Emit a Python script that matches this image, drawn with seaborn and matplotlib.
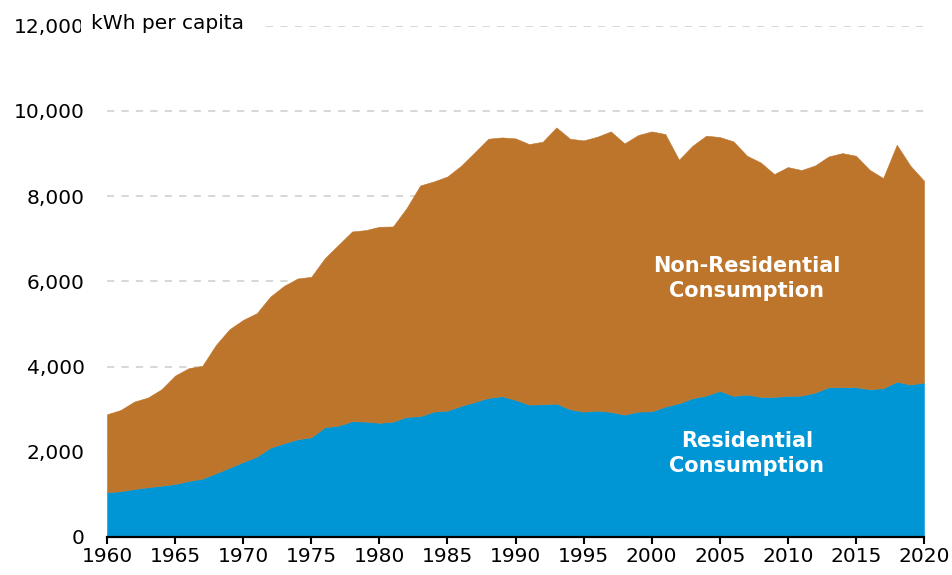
import numpy as np
import pandas as pd
import matplotlib
matplotlib.use("Agg")
import matplotlib.pyplot as plt
from matplotlib.patches import Rectangle
import seaborn as sns

years = list(range(1960, 2021))

residential = [1050, 1073, 1127, 1167, 1205, 1244, 1315, 1369, 1496, 1627,
               1761, 1886, 2097, 2200, 2294, 2341, 2576, 2613, 2717, 2707,
               2680, 2707, 2818, 2834, 2942, 2966, 3076, 3170, 3264, 3303,
               3217, 3106, 3115, 3130, 2998, 2942, 2966, 2935, 2872, 2942,
               2950, 3060, 3139, 3257, 3318, 3428, 3311, 3342, 3287, 3287,
               3311, 3318, 3389, 3515, 3515, 3515, 3468, 3491, 3647, 3577, 3624]

non_residential = [1830, 1907, 2050, 2104, 2262, 2544, 2646, 2646, 3012, 3250,
                   3334, 3366, 3546, 3693, 3772, 3764, 3967, 4243, 4452, 4494,
                   4599, 4579, 4900, 5415, 5401, 5494, 5635, 5854, 6081, 6073,
                   6136, 6114, 6160, 6481, 6347, 6364, 6426, 6582, 6363, 6489,
                   6567, 6395, 5713, 5924, 6098, 5957, 5972, 5604, 5502, 5229,
                   5369, 5292, 5329, 5415, 5493, 5431, 5149, 4931, 5557, 5134, 4735]

y_ticks = [0, 2000, 4000, 6000, 8000, 10000, 12000]
x_ticks = list(range(1960, 2021, 5))

BLUE = "#0096D6"
BROWN = "#BD752C"

sns.set_style("white")
plt.rcParams["font.family"] = ["DejaVu Sans"]

df = pd.DataFrame({"year": years, "Residential": residential,
                   "Non-Residential": non_residential})
df["Total"] = df["Residential"] + df["Non-Residential"]

fig = plt.figure(figsize=(9.52, 5.75), dpi=100)
ax = fig.add_axes([107 / 952, 1 - 537 / 575, (924 - 107) / 952, (537 - 25.6) / 575])

# gridlines behind
for v in y_ticks[1:]:
    ax.axhline(v, color="#d4d4d4", lw=1.3, ls=(0, (4, 4)), zorder=0)

ax.fill_between(df["year"], 0, df["Residential"], facecolor=BLUE,
                edgecolor=BLUE, lw=0.4, zorder=2)
ax.fill_between(df["year"], df["Residential"], df["Total"], facecolor=BROWN,
                edgecolor=BROWN, lw=0.4, zorder=2)

ax.set_xlim(1960, 2020)
ax.set_ylim(0, 12000)
ax.set_xticks(x_ticks)
ax.set_yticks(y_ticks)
ax.set_yticklabels([f"{v:,}" for v in y_ticks])
ax.set_xlabel("")
ax.set_ylabel("")

sns.despine(ax=ax, left=True, top=True, right=True)
ax.spines["bottom"].set_color("black")
ax.spines["bottom"].set_linewidth(1.6)
ax.spines["bottom"].set_zorder(5)
ax.tick_params(axis="x", length=5, width=1.5, direction="out", color="black",
               labelsize=14.5, pad=2, bottom=True)
ax.tick_params(axis="y", length=0, labelsize=14.5, pad=16)
for lab in ax.get_xticklabels() + ax.get_yticklabels():
    lab.set_color("black")

ax.text(2007, 6070, "Non-Residential\nConsumption", color="white", fontsize=15,
        fontweight="bold", ha="center", va="center", linespacing=1.3, zorder=6)
ax.text(2007, 1950, "Residential\nConsumption", color="white", fontsize=15,
        fontweight="bold", ha="center", va="center", linespacing=1.3, zorder=6)

# white box behind the unit label, covering the end of the top tick label
fig.patches.append(Rectangle((81 / 952, 1 - 38 / 575), (259 - 81) / 952, 30 / 575,
                             transform=fig.transFigure, facecolor="white",
                             edgecolor="none", zorder=9))
fig.text(91 / 952, 1 - 23.5 / 575, "kWh per capita", fontsize=14.5, color="black",
         ha="left", va="center", zorder=10)

fig.savefig("out.png", dpi=100, facecolor="white")
